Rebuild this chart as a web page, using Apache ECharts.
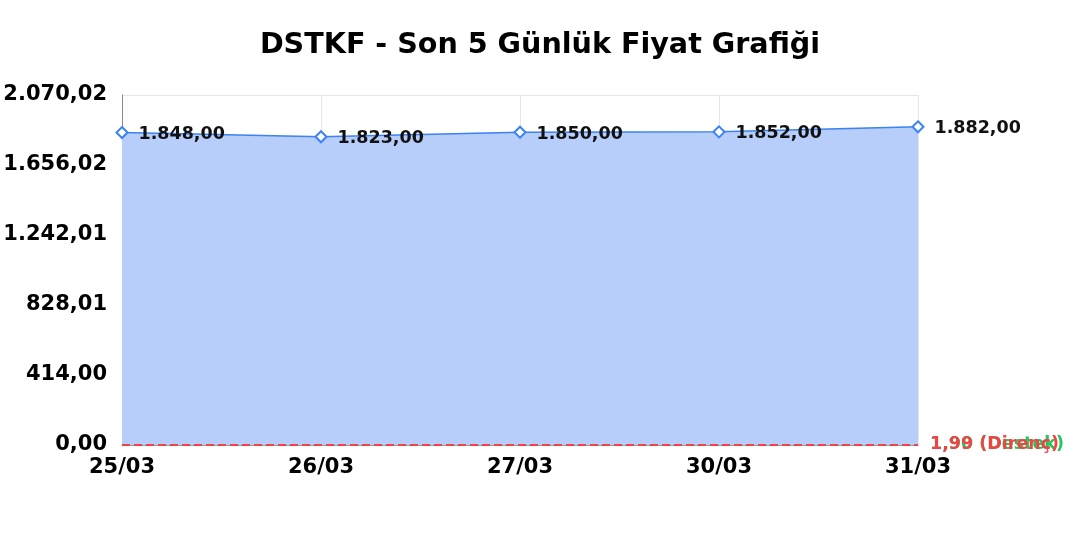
<!DOCTYPE html>
<html>
<head>
<meta charset="utf-8">
<script src="https://cdn.jsdelivr.net/npm/echarts@6/dist/echarts.min.js"></script>
<style>
    html, body {margin: 0; padding: 0; background: #fff;}
    #chart {width: 1080px; height: 540px;}
</style>
</head>
<body>
<div id="chart"></div>
<script>
//图表数据
var dates = ['25/03', '26/03', '27/03', '30/03', '31/03'];
var prices = [1848.00, 1823.00, 1850.00, 1852.00, 1882.00];
var supportLevel = 1.90;    //Destek
var resistLevel = 1.99;     //Direnç
var axisMax = 2070.02;
var axisStep = 414.004;

var FONT = 'DejaVu Sans';

//土耳其格式数字
function trNum(v) {
    return v.toLocaleString('tr-TR', {minimumFractionDigits: 2, maximumFractionDigits: 2});
}

var myChart = echarts.init(document.getElementById('chart'));
myChart.setOption({
    animation: false,
    textStyle: {fontFamily: FONT},
    title: {
        text: 'DSTKF - Son 5 Günlük Fiyat Grafiği',
        left: 'center',
        top: 26,
        textStyle: {fontSize: 28.6, fontWeight: 'bold', color: '#000', fontFamily: FONT}
    },
    grid: {
        left: 122,
        right: 162,
        top: 95,
        bottom: 95
    },
    xAxis: {
        type: 'category',
        data: dates,
        boundaryGap: false,
        axisLine: {lineStyle: {color: '#999'}},
        axisTick: {show: false},
        axisLabel: {fontSize: 21, fontWeight: 'bold', color: '#000', margin: 12, fontFamily: FONT},
        splitLine: {show: true, lineStyle: {color: '#e6e6e6'}}
    },
    yAxis: {
        type: 'value',
        min: 0,
        max: axisMax,
        interval: axisStep,
        axisLine: {show: true, lineStyle: {color: '#888'}},
        axisLabel: {
            fontSize: 21, fontWeight: 'bold', color: '#000', margin: 15, fontFamily: FONT,
            padding: [5, 0, 0, 0],
            formatter: function (v) { return trNum(v); }
        },
        splitLine: {lineStyle: {color: '#e6e6e6'}}
    },
    series: [{
        name: 'Fiyat',
        type: 'line',
        data: prices,
        symbol: 'diamond',
        symbolSize: 11,
        itemStyle: {color: '#fff', borderColor: '#3b82f6', borderWidth: 2},
        lineStyle: {color: '#3b82f6', width: 1.5},
        areaStyle: {color: '#b7cdfa', opacity: 1},
        label: {
            show: true,
            position: 'right',
            distance: 10,
            offset: [0, 2],
            fontSize: 17.5,
            fontWeight: 'bold',
            color: '#111',
            fontFamily: FONT,
            formatter: function (p) { return trNum(p.value); }
        },
        markLine: {
            silent: true,
            symbol: 'none',
            data: [{
                yAxis: supportLevel,
                lineStyle: {color: '#22c55e', type: 'dashed', width: 2},
                label: {
                    position: 'end', distance: 12, fontSize: 17.5, fontWeight: 'bold', color: '#22c55e', fontFamily: FONT,
                    formatter: trNum(supportLevel) + ' (Destek)'
                }
            }, {
                yAxis: resistLevel,
                lineStyle: {color: '#ef4444', type: 'dashed', width: 2},
                label: {
                    position: 'end', distance: 12, fontSize: 17.5, fontWeight: 'bold', color: '#ef4444', fontFamily: FONT,
                    formatter: trNum(resistLevel) + ' (Direnç)'
                }
            }]
        }
    }]
});
</script>
</body>
</html>
